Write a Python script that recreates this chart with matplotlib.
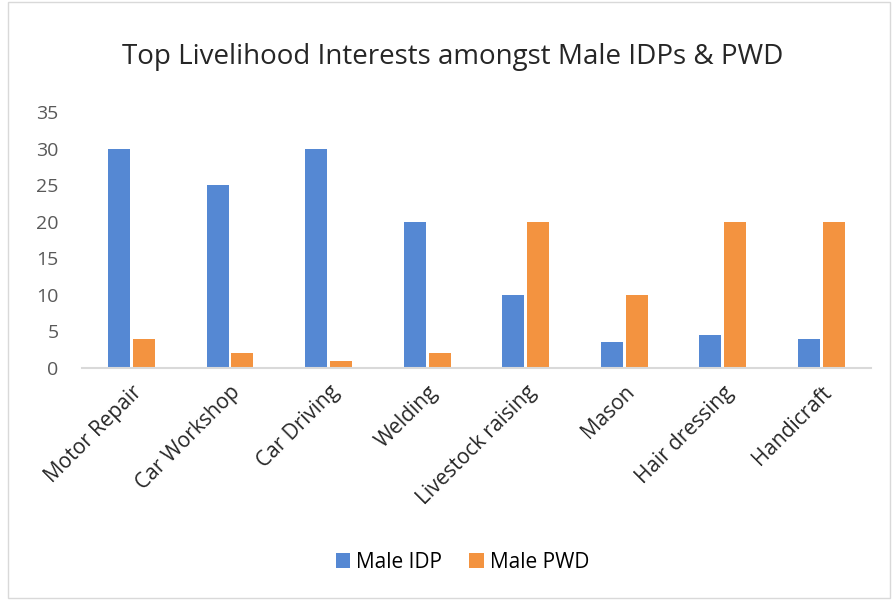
import numpy as np
import matplotlib.pyplot as plt
from matplotlib.patches import Rectangle

categories = ['Motor Repair', 'Car Workshop', 'Car Driving', 'Welding',
              'Livestock raising', 'Mason', 'Hair dressing', 'Handicraft']
male_idp = [30, 25, 30, 20, 10, 3.5, 4.5, 4]
male_pwd = [4, 2, 1, 2, 20, 10, 20, 20]
yticks = [0, 5, 10, 15, 20, 25, 30, 35]

blue = '#5588d3'
orange = '#f39340'
grey_text = '#595959'

plt.rcParams['font.family'] = ['Open Sans', 'DejaVu Sans']

fig = plt.figure(figsize=(8.93, 6.0), dpi=100)
ax = fig.add_axes([0.092, 0.3867, 0.883, 0.4267])

x = np.arange(len(categories))
w = 0.223
gap = 0.03
ax.bar(x - (w + gap) / 2, male_idp, w, color=blue, label='Male IDP')
ax.bar(x + (w + gap) / 2, male_pwd, w, color=orange, label='Male PWD')

ax.set_xlim(-0.5, len(categories) - 0.5)
ax.set_ylim(0, 35)
ax.set_yticks(yticks)
ax.tick_params(axis='y', length=0, pad=17, labelsize=14, labelcolor=grey_text)
ax.tick_params(axis='x', length=0, pad=10, labelsize=15, labelcolor='#262626')
ax.set_xticks(x)
ax.set_xticklabels(categories, rotation=45, ha='right', rotation_mode='anchor')

for s in ['top', 'right', 'left']:
    ax.spines[s].set_visible(False)
ax.spines['bottom'].set_color('#d9d9d9')
ax.spines['bottom'].set_linewidth(1.5)

fig.text(0.507, 0.905, 'Top Livelihood Interests amongst Male IDPs & PWD',
         ha='center', va='center', fontsize=20, color='#262626')

fig.legend(loc='center', bbox_to_anchor=(0.518, 0.063), ncol=2, frameon=False,
           fontsize=15, handlelength=0.7, handleheight=0.7, columnspacing=1.3,
           handletextpad=0.3)

fig.patches.append(Rectangle((0.009, 0.004), 0.988, 0.992, transform=fig.transFigure,
                             fill=False, edgecolor='#d9d9d9', linewidth=1))

fig.savefig('out.png', dpi=100)
